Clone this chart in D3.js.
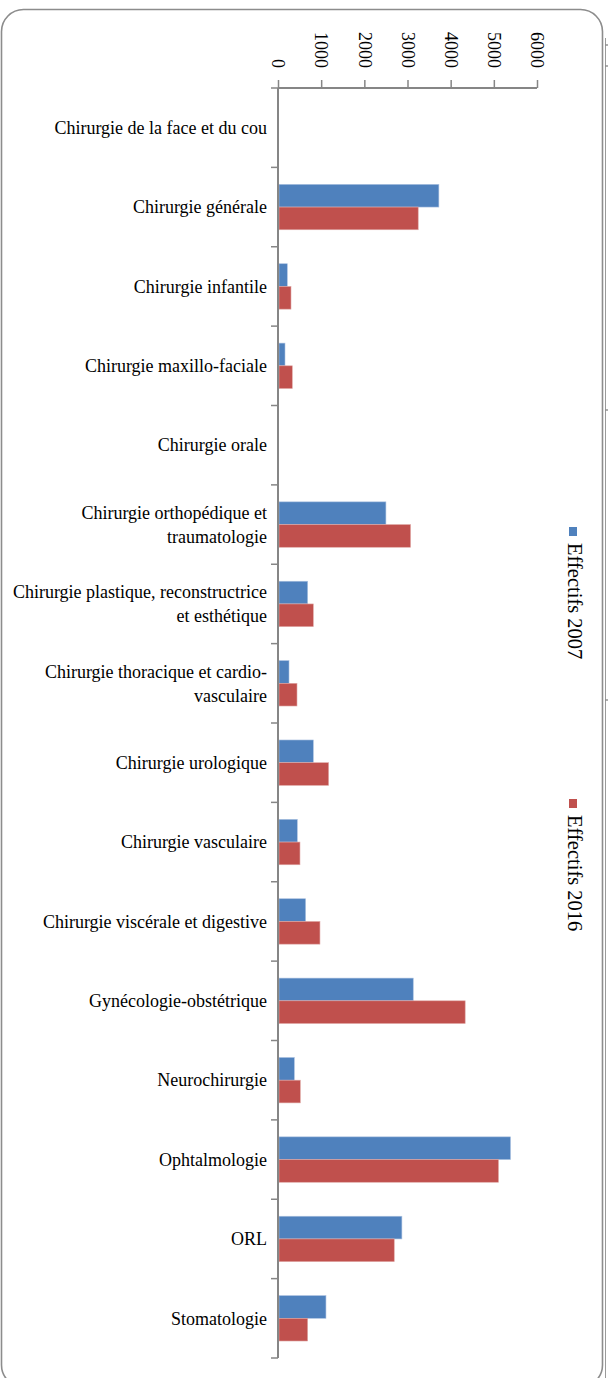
<!DOCTYPE html>
<html><head><meta charset="utf-8">
<script src="https://cdn.jsdelivr.net/npm/d3@7"></script>
<style>html,body{margin:0;padding:0;background:#fff;}svg{display:block;}</style>
</head><body>
<svg id="c" width="608" height="1378"></svg>
<script>
const categories = [
  "Chirurgie de la face et du cou",
  "Chirurgie générale",
  "Chirurgie infantile",
  "Chirurgie maxillo-faciale",
  "Chirurgie orale",
  "Chirurgie orthopédique et|traumatologie",
  "Chirurgie plastique, reconstructrice|et esthétique",
  "Chirurgie thoracique et cardio-|vasculaire",
  "Chirurgie urologique",
  "Chirurgie vasculaire",
  "Chirurgie viscérale et digestive",
  "Gynécologie-obstétrique",
  "Neurochirurgie",
  "Ophtalmologie",
  "ORL",
  "Stomatologie"
];
const seriesNames = ["Effectifs 2007", "Effectifs 2016"];
const values2007 = [0, 3727, 215, 162, 0, 2500, 687, 255, 818, 447, 640, 3133, 378, 5386, 2870, 1111];
const values2016 = [0, 3248, 301, 331, 0, 3071, 818, 440, 1173, 509, 972, 4336, 517, 5108, 2693, 687];
const tickValues = [0, 1000, 2000, 3000, 4000, 5000, 6000];
const colors = ["#4F81BD", "#C0504D"];

const svg = d3.select("#c");
const font = "'Liberation Serif', 'DejaVu Serif', serif";

// border
svg.append("rect").attr("x", 1.5).attr("y", 9.5).attr("width", 601).attr("height", 1377.5)
  .attr("rx", 22).attr("ry", 22).attr("fill", "none").attr("stroke", "#8c8c8c").attr("stroke-width", 1.6);

// stray neighbouring page edge
svg.append("line").attr("x1", 605.5).attr("x2", 605.5).attr("y1", 38).attr("y2", 1378)
  .attr("stroke", "#9a9a9a").attr("stroke-width", 1);
[45, 66, 410, 700].forEach(v => {
  svg.append("line").attr("x1", 605.5).attr("x2", 608).attr("y1", v).attr("y2", v)
    .attr("stroke", "#777").attr("stroke-width", 1.2);
});

const x = d3.scaleLinear().domain([0, 6000]).range([278, 537]);
const y = d3.scaleBand().domain(categories).range([88, 1358]).padding(0);
const ySub = d3.scaleBand().domain(seriesNames).range([y.bandwidth() * 0.214, y.bandwidth() * 0.786]).padding(0);

const data = categories.map((c, i) => ({cat: c, vals: [values2007[i], values2016[i]]}));

// bars
const g = svg.append("g");
data.forEach(d => {
  d.vals.forEach((v, j) => {
    if (v <= 0) return;
    g.append("rect")
      .attr("x", x(0) + 1)
      .attr("y", y(d.cat) + ySub(seriesNames[j]))
      .attr("width", x(v) - x(0) - 1)
      .attr("height", ySub.bandwidth())
      .attr("fill", colors[j])
      .attr("stroke", j === 0 ? "#a9c0e0" : "#e0a8a6").attr("stroke-width", 0.6);
  });
});

// top value axis
const xAxis = d3.axisTop(x).tickValues(tickValues).tickSize(8).tickFormat(d3.format("d"));
const xg = svg.append("g").attr("transform", "translate(0,88)").call(xAxis);
xg.select(".domain").attr("stroke", "#868686").attr("stroke-width", 2).attr("d", "M278,0H537");
xg.selectAll(".tick line").attr("stroke", "#868686").attr("stroke-width", 1.5);
xg.selectAll(".tick text")
  .attr("font-family", font).attr("font-size", 18).attr("fill", "#000")
  .attr("transform", "rotate(90)")
  .attr("text-anchor", "end")
  .attr("x", -20).attr("y", 0).attr("dy", "0.35em");

// left category axis line and ticks
const yAxisG = svg.append("g");
yAxisG.append("line").attr("x1", 278).attr("x2", 278).attr("y1", 88).attr("y2", 1358)
  .attr("stroke", "#868686").attr("stroke-width", 2);
const bounds = categories.map(c => y(c)).concat([y.range()[1]]);
yAxisG.selectAll("line.t").data(bounds).enter().append("line").attr("class", "t")
  .attr("x1", 271).attr("x2", 278).attr("y1", d => d).attr("y2", d => d)
  .attr("stroke", "#868686").attr("stroke-width", 1.5);

// category labels
categories.forEach(c => {
  const lines = c.split("|");
  const cy = y(c) + y.bandwidth() / 2;
  const lh = 24;
  const t = svg.append("text").attr("font-family", font).attr("font-size", 18).attr("fill", "#000")
    .attr("text-anchor", "end");
  lines.forEach((ln, k) => {
    t.append("tspan").attr("x", 267)
      .attr("y", cy + (k - (lines.length - 1) / 2) * lh)
      .attr("dy", "0.35em").text(ln);
  });
});

// legend (rotated)
const legY = [527, 799];
seriesNames.forEach((s, j) => {
  svg.append("rect").attr("x", 569).attr("y", legY[j]).attr("width", 8).attr("height", 9).attr("fill", colors[j]);
  svg.append("text").attr("font-family", font).attr("font-size", 20.5).attr("fill", "#000")
    .attr("transform", `translate(575,${legY[j] + 16}) rotate(90)`)
    .attr("dy", "0.35em").text(s);
});
</script>
</body></html>
